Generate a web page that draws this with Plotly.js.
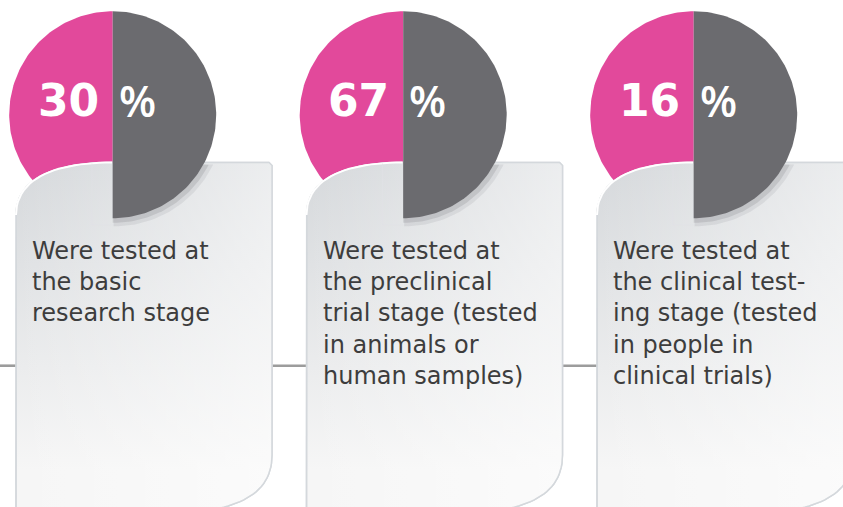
<!DOCTYPE html>
<html>
<head>
<meta charset="utf-8">
<script src="https://cdn.plot.ly/plotly-3.0.1.min.js"></script>
<style>
  html, body { margin: 0; padding: 0; background: #ffffff; }
  #chart { width: 843px; height: 507px; }
</style>
</head>
<body>
<div id="chart"></div>
<script>
// ---- data ----
var stages = ["basic research", "preclinical trial", "clinical testing"];
var percents = [30, 67, 16];
var descriptions = [
  "Were tested at<br>the basic<br>research stage",
  "Were tested at<br>the preclinical<br>trial stage (tested<br>in animals or<br>human samples)",
  "Were tested at<br>the clinical test-<br>ing stage (tested<br>in people in<br>clinical trials)"
];

// ---- styling / geometry ----
var W = 843, H = 507;
var PINK = "#e2499b", GRAY = "#6b6b6f";
var STEP = 290.5;
var CX0 = 112.7, CY = 114.7, R = 103.5;
var CARD_L = 16, CARD_R = 272, CARD_T = 162.5;

function arc(cx, cy, r, a0, a1, n) {
  var xs = [], ys = [];
  for (var k = 0; k <= n; k++) {
    var a = a0 + (a1 - a0) * k / n;
    xs.push(cx + r * Math.cos(a));
    ys.push(cy + r * Math.sin(a));
  }
  return {x: xs, y: ys};
}
function bez(p0, p1, p2, p3, n, xs, ys) {
  for (var k = 1; k <= n; k++) {
    var t = k / n, u = 1 - t;
    xs.push(u*u*u*p0[0] + 3*u*u*t*p1[0] + 3*u*t*t*p2[0] + t*t*t*p3[0]);
    ys.push(u*u*u*p0[1] + 3*u*u*t*p1[1] + 3*u*t*t*p2[1] + t*t*t*p3[1]);
  }
}
function cardPath(dx) {
  var xs = [CARD_L + dx], ys = [512];
  xs.push(CARD_L + dx); ys.push(215);
  bez([CARD_L+dx,215],[CARD_L+dx,176],[60+dx,CARD_T],[112+dx,CARD_T],24,xs,ys);
  xs.push(CARD_R - 3 + dx); ys.push(CARD_T);
  xs.push(CARD_R + dx); ys.push(CARD_T + 3);
  xs.push(CARD_R + dx); ys.push(455);
  bez([CARD_R+dx,455],[CARD_R+dx,490],[245+dx,505],[205+dx,511],24,xs,ys);
  xs.push(CARD_L + dx); ys.push(512);
  return {x: xs, y: ys};
}
function topCurve(dx) {
  var xs = [CARD_L + dx], ys = [215];
  bez([CARD_L+dx,215],[CARD_L+dx,176],[60+dx,CARD_T],[112+dx,CARD_T],24,xs,ys);
  return {x: xs, y: ys};
}
function shadowHalf(cx, cy, r) {
  var a = arc(cx, cy, r, -Math.PI/2, Math.PI/2, 120);
  var xs = [], ys = [];
  for (var k = 0; k < a.x.length; k++) {
    if (a.y[k] >= CARD_T) { xs.push(a.x[k]); ys.push(a.y[k]); }
  }
  xs.unshift(cx - 1.5); ys.unshift(CARD_T);
  xs.push(cx - 1.5); ys.push(cy + r);
  return {x: xs, y: ys};
}

var traces = [];
var annotations = [];

// connector lines
var lineSegs = [[0, CARD_L], [CARD_R, CARD_L + STEP], [CARD_R + STEP, CARD_L + 2*STEP]];
lineSegs.forEach(function (s) {
  traces.push({type: "scatter", mode: "lines", x: [s[0], s[1]], y: [365.7, 365.7],
    line: {color: "#9c9c9c", width: 2.6}, hoverinfo: "skip", showlegend: false});
});

stages.forEach(function (st, i) {
  var dx = i * STEP;
  var cx = CX0 + dx;
  // pink half (left)
  var p = arc(cx, CY, R, Math.PI/2, 3*Math.PI/2, 120);
  p.x.push(cx); p.y.push(CY + R);
  traces.push({type: "scatter", mode: "lines", x: p.x, y: p.y, fill: "toself",
    fillcolor: PINK, line: {width: 0, color: PINK}, hoverinfo: "skip", showlegend: false, name: st});
  // card base (vertical gradient)
  var c = cardPath(dx);
  traces.push({type: "scatter", mode: "lines", x: c.x, y: c.y, fill: "toself",
    fillgradient: {type: "vertical", start: CARD_T, stop: 470,
      colorscale: [[0, "#d5d8db"], [1, "#f6f6f6"]]},
    line: {width: 1.6, color: "#d4d8dc"}, hoverinfo: "skip", showlegend: false});
  // card horizontal lightening
  traces.push({type: "scatter", mode: "lines", x: c.x, y: c.y, fill: "toself",
    fillgradient: {type: "horizontal", start: CARD_L + dx, stop: CARD_R + dx,
      colorscale: [[0, "rgba(255,255,255,0)"], [1, "rgba(255,255,255,0.55)"]]},
    line: {width: 1.4, color: "#d4d8dc"}, hoverinfo: "skip", showlegend: false});
  // white highlight on top curve
  var tc = topCurve(dx);
  traces.push({type: "scatter", mode: "lines", x: tc.x, y: tc.y,
    line: {width: 2, color: "#ffffff"}, hoverinfo: "skip", showlegend: false});
  // faint rectangle behind gray half
  traces.push({type: "scatter", mode: "lines",
    x: [92 + dx, 92 + dx, 116 + dx], y: [CARD_T + 1, 225, 225],
    line: {width: 1, color: "rgba(225,225,230,0.6)"}, hoverinfo: "skip", showlegend: false});
  // shadow of gray half over the card
  var s1 = shadowHalf(cx + 2.5, CY + 3, R + 5);
  traces.push({type: "scatter", mode: "lines", x: s1.x, y: s1.y, fill: "toself",
    fillcolor: "rgba(90,90,95,0.10)", line: {width: 0}, hoverinfo: "skip", showlegend: false});
  var s2 = shadowHalf(cx + 1.5, CY + 2, R + 2.5);
  traces.push({type: "scatter", mode: "lines", x: s2.x, y: s2.y, fill: "toself",
    fillcolor: "rgba(90,90,95,0.16)", line: {width: 0}, hoverinfo: "skip", showlegend: false});
  // gray half (right)
  var g = arc(cx, CY, R, -Math.PI/2, Math.PI/2, 120);
  g.x.push(cx); g.y.push(CY - R);
  traces.push({type: "scatter", mode: "lines", x: g.x, y: g.y, fill: "toself",
    fillcolor: GRAY, line: {width: 0, color: GRAY}, hoverinfo: "skip", showlegend: false});

  // percentage labels
  annotations.push({x: cx - 12, y: 100, xref: "x", yref: "y", xanchor: "right", yanchor: "middle",
    text: String(percents[i]), showarrow: false,
    font: {family: "DejaVu Sans", size: 44, color: "#ffffff", weight: 700}});
  annotations.push({x: cx + 4, y: 100.5, xref: "x", yref: "y", xanchor: "left", yanchor: "middle",
    text: "%", showarrow: false,
    font: {family: "Open Sans", size: 43, color: "#ffffff", weight: 600}});
  // description
  annotations.push({x: CARD_L + dx + 14, y: 235, xref: "x", yref: "y", xanchor: "left", yanchor: "top",
    align: "left", text: descriptions[i], showarrow: false,
    font: {family: "DejaVu Sans", size: 24, color: "#3d3d3d"}});
});

var layout = {
  width: W, height: H,
  margin: {l: 0, r: 0, t: 0, b: 0, pad: 0},
  paper_bgcolor: "#ffffff", plot_bgcolor: "#ffffff",
  xaxis: {range: [0, W], visible: false, fixedrange: true},
  yaxis: {range: [H, 0], visible: false, fixedrange: true},
  showlegend: false,
  annotations: annotations
};

Plotly.newPlot("chart", traces, layout, {staticPlot: true, displayModeBar: false});
</script>
</body>
</html>
